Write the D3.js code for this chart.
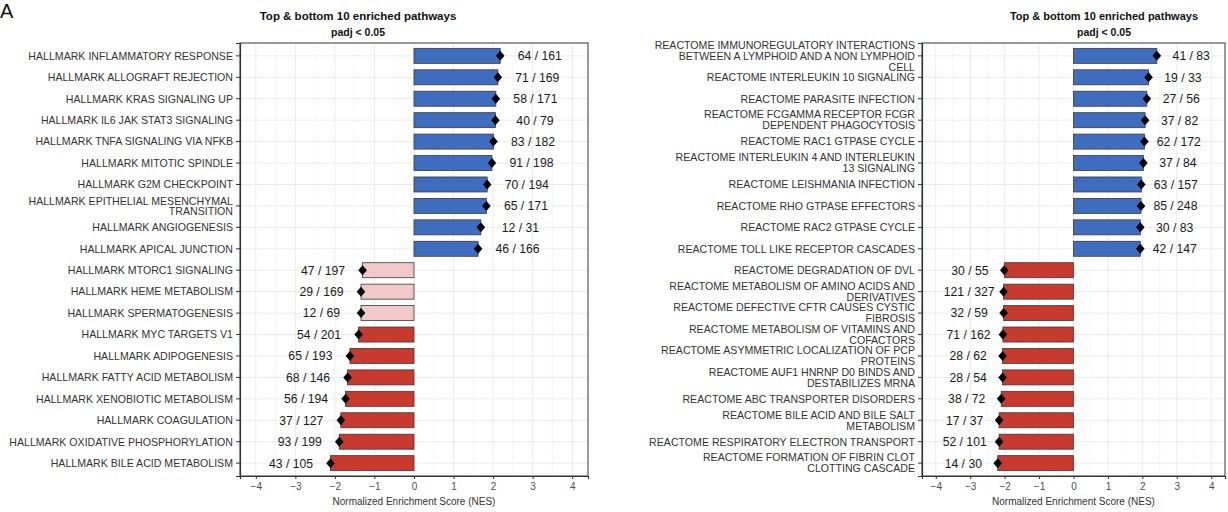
<!DOCTYPE html>
<html>
<head>
<meta charset="utf-8">
<script src="https://cdn.jsdelivr.net/npm/d3@7"></script>
<style>
  html, body { margin: 0; padding: 0; background: #ffffff; }
  svg { display: block; font-family: "Liberation Sans", Arial, sans-serif; }
</style>
</head>
<body>
<svg id="chart" width="1228" height="512"></svg>
<script>
// ---------------- DATA ----------------
const chartTitle = "Top & bottom 10 enriched pathways";
const chartSubtitle = "padj < 0.05";
const xAxisTitle = "Normalized Enrichment Score (NES)";
const xTicks = [-4, -3, -2, -1, 0, 1, 2, 3, 4];

const hallmarkPathways = [
  "HALLMARK INFLAMMATORY RESPONSE",
  "HALLMARK ALLOGRAFT REJECTION",
  "HALLMARK KRAS SIGNALING UP",
  "HALLMARK IL6 JAK STAT3 SIGNALING",
  "HALLMARK TNFA SIGNALING VIA NFKB",
  "HALLMARK MITOTIC SPINDLE",
  "HALLMARK G2M CHECKPOINT",
  "HALLMARK EPITHELIAL MESENCHYMAL\nTRANSITION",
  "HALLMARK ANGIOGENESIS",
  "HALLMARK APICAL JUNCTION",
  "HALLMARK MTORC1 SIGNALING",
  "HALLMARK HEME METABOLISM",
  "HALLMARK SPERMATOGENESIS",
  "HALLMARK MYC TARGETS V1",
  "HALLMARK ADIPOGENESIS",
  "HALLMARK FATTY ACID METABOLISM",
  "HALLMARK XENOBIOTIC METABOLISM",
  "HALLMARK COAGULATION",
  "HALLMARK OXIDATIVE PHOSPHORYLATION",
  "HALLMARK BILE ACID METABOLISM"
];
const hallmarkNES = [2.18, 2.12, 2.07, 2.06, 2.01, 1.97, 1.85, 1.83, 1.69, 1.62,
                     -1.30, -1.34, -1.34, -1.40, -1.62, -1.68, -1.73, -1.85, -1.89, -2.11];
const hallmarkCounts = ["64 / 161", "71 / 169", "58 / 171", "40 / 79", "83 / 182",
                        "91 / 198", "70 / 194", "65 / 171", "12 / 31", "46 / 166",
                        "47 / 197", "29 / 169", "12 / 69", "54 / 201", "65 / 193",
                        "68 / 146", "56 / 194", "37 / 127", "93 / 199", "43 / 105"];
const hallmarkGroup = ["up","up","up","up","up","up","up","up","up","up",
                       "downWeak","downWeak","downWeak","down","down","down","down","down","down","down"];

const reactomePathways = [
  "REACTOME IMMUNOREGULATORY INTERACTIONS\nBETWEEN A LYMPHOID AND A NON LYMPHOID\nCELL",
  "REACTOME INTERLEUKIN 10 SIGNALING",
  "REACTOME PARASITE INFECTION",
  "REACTOME FCGAMMA RECEPTOR FCGR\nDEPENDENT PHAGOCYTOSIS",
  "REACTOME RAC1 GTPASE CYCLE",
  "REACTOME INTERLEUKIN 4 AND INTERLEUKIN\n13 SIGNALING",
  "REACTOME LEISHMANIA INFECTION",
  "REACTOME RHO GTPASE EFFECTORS",
  "REACTOME RAC2 GTPASE CYCLE",
  "REACTOME TOLL LIKE RECEPTOR CASCADES",
  "REACTOME DEGRADATION OF DVL",
  "REACTOME METABOLISM OF AMINO ACIDS AND\nDERIVATIVES",
  "REACTOME DEFECTIVE CFTR CAUSES CYSTIC\nFIBROSIS",
  "REACTOME METABOLISM OF VITAMINS AND\nCOFACTORS",
  "REACTOME ASYMMETRIC LOCALIZATION OF PCP\nPROTEINS",
  "REACTOME AUF1 HNRNP D0 BINDS AND\nDESTABILIZES MRNA",
  "REACTOME ABC TRANSPORTER DISORDERS",
  "REACTOME BILE ACID AND BILE SALT\nMETABOLISM",
  "REACTOME RESPIRATORY ELECTRON TRANSPORT",
  "REACTOME FORMATION OF FIBRIN CLOT\nCLOTTING CASCADE"
];
const reactomeNES = [2.42, 2.18, 2.13, 2.08, 2.06, 2.03, 1.97, 1.96, 1.94, 1.94,
                     -2.01, -2.03, -2.03, -2.05, -2.06, -2.06, -2.10, -2.16, -2.16, -2.20];
const reactomeCounts = ["41 / 83", "19 / 33", "27 / 56", "37 / 82", "62 / 172",
                        "37 / 84", "63 / 157", "85 / 248", "30 / 83", "42 / 147",
                        "30 / 55", "121 / 327", "32 / 59", "71 / 162", "28 / 62",
                        "28 / 54", "38 / 72", "17 / 37", "52 / 101", "14 / 30"];
const reactomeGroup = ["up","up","up","up","up","up","up","up","up","up",
                       "down","down","down","down","down","down","down","down","down","down"];

// ---------------- STYLE ----------------
const fillColor = { up: "#3e6dbf", down: "#c8392e", downWeak: "#f1c9c9" };
const svg = d3.select("#chart");

svg.append("text").attr("x", 0).attr("y", 18)
  .attr("font-size", 20).attr("fill", "#111").text("A");

const diamondShape = {
  draw(ctx, size) {
    const w = 4.3, h = 5;
    ctx.moveTo(0, -h); ctx.lineTo(w, 0); ctx.lineTo(0, h); ctx.lineTo(-w, 0); ctx.closePath();
  }
};

function drawPanel(cfg) {
  const g = svg.append("g");
  const x = d3.scaleLinear().domain([-4.4, 4.4]).range([cfg.x0, cfg.x1]);
  const y = d3.scaleBand().domain(cfg.pathways).range([cfg.y0, cfg.y1])
    .paddingInner(0.3).paddingOuter(0.25);
  const yc = d => y(d) + y.bandwidth() / 2;

  g.append("rect").attr("x", cfg.x0).attr("y", cfg.y0)
    .attr("width", cfg.x1 - cfg.x0).attr("height", cfg.y1 - cfg.y0).attr("fill", "#fff");

  const minor = d3.range(-4.5, 4.51, 1).filter(v => x(v) > cfg.x0 && x(v) < cfg.x1);
  g.selectAll(".minor").data(minor).join("line")
    .attr("x1", d => x(d)).attr("x2", d => x(d))
    .attr("y1", cfg.y0).attr("y2", cfg.y1)
    .attr("stroke", "#f4f4f4").attr("stroke-width", 0.6);
  g.selectAll(".majx").data(xTicks).join("line")
    .attr("x1", d => x(d)).attr("x2", d => x(d))
    .attr("y1", cfg.y0).attr("y2", cfg.y1)
    .attr("stroke", "#ebebeb").attr("stroke-width", 1);
  g.selectAll(".majy").data(cfg.pathways).join("line")
    .attr("x1", cfg.x0).attr("x2", cfg.x1)
    .attr("y1", d => yc(d)).attr("y2", d => yc(d))
    .attr("stroke", "#ebebeb").attr("stroke-width", 1);

  const rows = cfg.pathways.map((p, i) => ({ p, nes: cfg.nes[i], count: cfg.counts[i], grp: cfg.group[i] }));

  g.selectAll(".bar").data(rows).join("rect")
    .attr("x", d => Math.min(x(0), x(d.nes)))
    .attr("width", d => Math.abs(x(d.nes) - x(0)))
    .attr("y", d => y(d.p)).attr("height", y.bandwidth())
    .attr("fill", d => fillColor[d.grp])
    .attr("stroke", "#3a3a3a").attr("stroke-width", 0.8);

  g.selectAll(".pt").data(rows).join("path")
    .attr("d", d3.symbol().type(diamondShape).size(1))
    .attr("transform", d => `translate(${x(d.nes)},${yc(d.p)})`)
    .attr("fill", "#000");

  g.selectAll(".cnt").data(rows).join("text")
    .attr("x", d => x(d.nes + (d.nes > 0 ? 1 : -1)))
    .attr("y", d => yc(d.p)).attr("dy", "0.36em")
    .attr("text-anchor", "middle").attr("font-size", cfg.countSize)
    .attr("fill", "#1a1a1a").text(d => d.count);

  g.append("rect").attr("x", cfg.x0).attr("y", cfg.y0)
    .attr("width", cfg.x1 - cfg.x0).attr("height", cfg.y1 - cfg.y0)
    .attr("fill", "none").attr("stroke", "#555").attr("stroke-width", 1.2);

  const yAxis = g.append("g").attr("transform", `translate(${cfg.x0},0)`)
    .call(d3.axisLeft(y).tickSize(4).tickPadding(3).tickFormat(""));
  yAxis.select(".domain").attr("stroke", "#333").attr("stroke-width", 1.2);
  yAxis.selectAll(".tick line").attr("stroke", "#333");
  yAxis.selectAll(".tick").each(function(d) {
    const lines = d.split("\n");
    const t = d3.select(this).append("text")
      .attr("x", -7).attr("text-anchor", "end")
      .attr("font-size", cfg.labelSize).attr("fill", "#333");
    lines.forEach((ln, i) => {
      t.append("tspan").attr("x", -7)
        .attr("y", (i - (lines.length - 1) / 2) * cfg.lineH)
        .attr("dy", "0.36em").text(ln);
    });
  });

  const xAxis = g.append("g").attr("transform", `translate(0,${cfg.y1})`)
    .call(d3.axisBottom(x).tickValues(xTicks).tickSize(3).tickPadding(4).tickFormat(d3.format("d")));
  xAxis.select(".domain").attr("stroke", "#333").attr("stroke-width", 1.2);
  xAxis.selectAll(".tick line").attr("stroke", "#333");
  xAxis.selectAll(".tick text").attr("font-size", cfg.tickSize).attr("fill", "#4d4d4d")
    .attr("font-family", "Liberation Sans, Arial, sans-serif");

  g.append("text").attr("x", (cfg.x0 + cfg.x1) / 2).attr("y", cfg.y1 + 28.5)
    .attr("text-anchor", "middle").attr("font-size", cfg.axisTitleSize).attr("fill", "#333")
    .text(xAxisTitle);

  g.append("text").attr("x", cfg.titleX).attr("y", 19.5)
    .attr("text-anchor", "middle").attr("font-size", cfg.titleSize).attr("font-weight", "bold")
    .attr("fill", "#111").text(chartTitle);
  g.append("text").attr("x", cfg.titleX).attr("y", 35.5)
    .attr("text-anchor", "middle").attr("font-size", cfg.subSize).attr("font-weight", "bold")
    .attr("fill", "#111").text(chartSubtitle);
}

drawPanel({
  pathways: hallmarkPathways, nes: hallmarkNES, counts: hallmarkCounts, group: hallmarkGroup,
  x0: 240, x1: 588, y0: 43, y1: 476,
  labelSize: 10.6, lineH: 10, countSize: 12.2, tickSize: 10, axisTitleSize: 10,
  titleX: 358, titleSize: 11.5, subSize: 10.5
});
drawPanel({
  pathways: reactomePathways, nes: reactomeNES, counts: reactomeCounts, group: reactomeGroup,
  x0: 922, x1: 1225, y0: 43, y1: 476,
  labelSize: 10.6, lineH: 11, countSize: 12.2, tickSize: 10, axisTitleSize: 10,
  titleX: 1104, titleSize: 11, subSize: 10.5
});
</script>
</body>
</html>
